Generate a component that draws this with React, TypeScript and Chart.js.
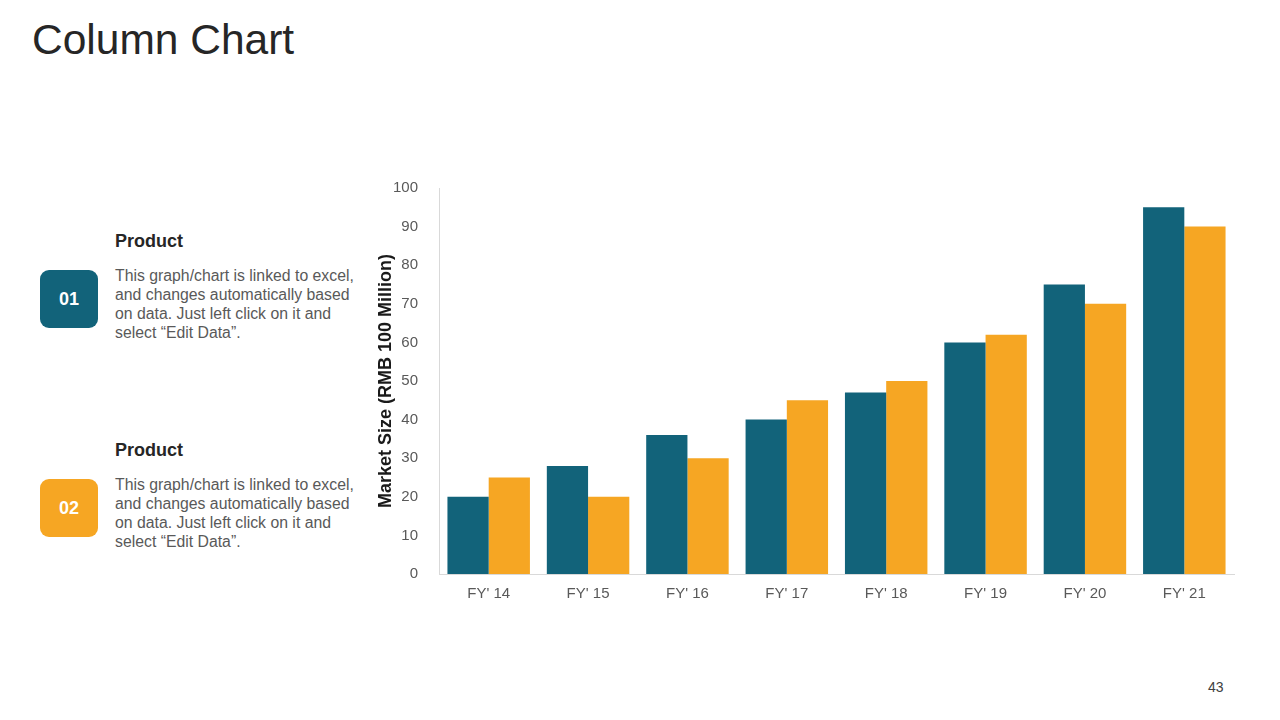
import React, { useEffect, useRef } from "react";
import { Chart, registerables } from "chart.js";

Chart.register(...registerables);

const categories = ["FY' 14", "FY' 15", "FY' 16", "FY' 17", "FY' 18", "FY' 19", "FY' 20", "FY' 21"];
const product01 = [20, 28, 36, 40, 47, 60, 75, 95];
const product02 = [25, 20, 30, 45, 50, 62, 70, 90];
const yTitle = "Market Size (RMB 100 Million)";
const TEAL = "#12637A";
const ORANGE = "#F6A623";
const FONT = "'Liberation Sans', Arial, Helvetica, sans-serif";

function ChartBox() {
  const ref = useRef<HTMLCanvasElement>(null);
  useEffect(() => {
    const chart = new Chart(ref.current!, {
      type: "bar",
      data: {
        labels: categories,
        datasets: [
          { label: "Product 01", data: product01, backgroundColor: TEAL, barPercentage: 1, categoryPercentage: 0.83 },
          { label: "Product 02", data: product02, backgroundColor: ORANGE, barPercentage: 1, categoryPercentage: 0.83 },
        ],
      },
      options: {
        animation: false,
        responsive: false,
        maintainAspectRatio: false,
        layout: { padding: { top: 13, right: 16, left: 0, bottom: 0 } },
        plugins: { legend: { display: false }, tooltip: { enabled: false } },
        scales: {
          x: {
            grid: { display: false },
            border: { display: true, color: "#D9D9D9", width: 1 },
            ticks: { color: "#595959", font: { family: FONT, size: 15 }, padding: 3 },
            afterFit: (s: any) => { s.height = 36; },
          },
          y: {
            min: 0,
            max: 100,
            grid: { display: false },
            border: { display: true, color: "#D9D9D9", width: 1 },
            ticks: { stepSize: 10, color: "#595959", font: { family: FONT, size: 15 }, padding: 13 },
            title: { display: true, text: yTitle, color: "#1A1A1A", font: { family: FONT, size: 18, weight: "bold" }, padding: { top: 5, bottom: 0 } },
            afterFit: (s: any) => { s.width = 69; },
          },
        },
      },
    });
    return () => chart.destroy();
  }, []);
  return <canvas ref={ref} width={880} height={444} style={{ position: "absolute", left: 370, top: 166, width: 880, height: 444 }} />;
}

const descLines = [
  "This graph/chart is linked to excel,",
  "and changes automatically based",
  "on data. Just left click on it and",
  "select \u201cEdit Data\u201d.",
];

function Item({ top, num, color }: { top: number; num: string; color: string }) {
  return (
    <>
      <div style={{ position: "absolute", left: 115, top: top, fontSize: 18, fontWeight: "bold", color: "#262626", lineHeight: "22px" }}>Product</div>
      <div style={{ position: "absolute", left: 40, top: top + 40, width: 58, height: 58, borderRadius: 9, background: color, color: "#fff", fontWeight: "bold", fontSize: 18, display: "flex", alignItems: "center", justifyContent: "center" }}>{num}</div>
      <div style={{ position: "absolute", left: 115, top: top + 36, fontSize: 15.8, lineHeight: "19px", color: "#595959", whiteSpace: "nowrap" }}>
        {descLines.map((l, i) => (<div key={i}>{l}</div>))}
      </div>
    </>
  );
}

export default function App() {
  return (
    <div style={{ position: "fixed", left: 0, top: 0, width: 1280, height: 720, background: "#fff", fontFamily: FONT, overflow: "hidden" }}>
      <div style={{ position: "absolute", left: 32, top: 14, fontSize: 42.5, color: "#262626", lineHeight: "52px" }}>Column Chart</div>
      <Item top={230} num="01" color={TEAL} />
      <Item top={439} num="02" color={ORANGE} />
      <ChartBox />
      <div style={{ position: "absolute", left: 1208, top: 679, fontSize: 14, color: "#404040" }}>43</div>
    </div>
  );
}
